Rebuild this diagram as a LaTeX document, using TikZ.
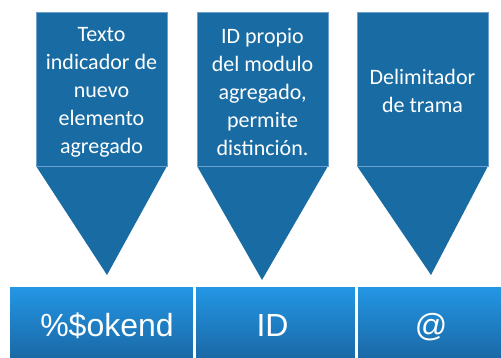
\documentclass[tikz,border=0pt]{standalone}
\usepackage{fontspec}
\setmainfont{Carlito}
\newfontfamily\barfont{Liberation Sans}
\definecolor{calloutblue}{RGB}{25,108,163}
\definecolor{calloutedge}{RGB}{110,160,205}
\definecolor{bartop}{RGB}{36,151,229}
\definecolor{barbottom}{RGB}{25,103,164}

\begin{document}
\begin{tikzpicture}[x=1pt,y=-1pt,
  callout/.style={fill=calloutblue,draw=calloutedge,line width=0.6pt,outer sep=0pt,inner sep=0pt,
    minimum width=131pt,minimum height=154pt},
  calltext/.style={text=white,align=center,inner sep=0pt,font=\fontsize{22}{28}\selectfont},
  point/.style={fill=calloutblue},
  cell/.style={draw=white,line width=1.5pt,outer sep=0pt,inner sep=0pt,minimum height=74pt,
    top color=bartop,bottom color=barbottom},
  celltext/.style={anchor=base,text=white,font=\barfont\fontsize{32}{40}\selectfont}]

  \useasboundingbox (0,0) rectangle (501,358);

  % bar
  \node[cell, minimum width=185pt] (b1) at (101.5,323) {};
  \node[cell, minimum width=161pt] (b2) at (275.5,323) {};
  \node[cell, minimum width=148pt] (b3) at (431,323) {};

  \node[celltext] (t1) at (107,337) {\%\$okend};
  \node[celltext] (t2) at (272.5,337) {ID};
  \node[celltext] (t3) at (431,337) {@};

  % callouts
  \node[callout] (c1) at (101.5,89) {};
  \node[callout] (c2) at (262.5,89) {};
  \node[callout] (c3) at (422.5,89) {};

  \node[calltext] (l1) at ([yshift=-3pt]c1.center) {Texto\\indicador de\\nuevo\\elemento\\agregado};
  \node[calltext] (l2) at ([yshift=-3pt]c2.center) {ID propio\\del modulo\\agregado,\\permite\\distinción.};
  \node[calltext] (l3) at ([yshift=-2pt]c3.center) {Delimitador\\de trama};

  \coordinate (a1) at (107,275);
  \coordinate (a2) at (262,280);
  \coordinate (a3) at (431,275);

  \fill[point] (c1.south west) -- (c1.south east) -- (a1) -- cycle;
  \fill[point] (c2.south west) -- (c2.south east) -- (a2) -- cycle;
  \fill[point] (c3.south west) -- (c3.south east) -- (a3) -- cycle;

  \draw[calloutedge,line width=0.6pt] (c1.south west) -- (c1.south east);
  \draw[calloutedge,line width=0.6pt] (c2.south west) -- (c2.south east);
  \draw[calloutedge,line width=0.6pt] (c3.south west) -- (c3.south east);
\end{tikzpicture}
\end{document}
